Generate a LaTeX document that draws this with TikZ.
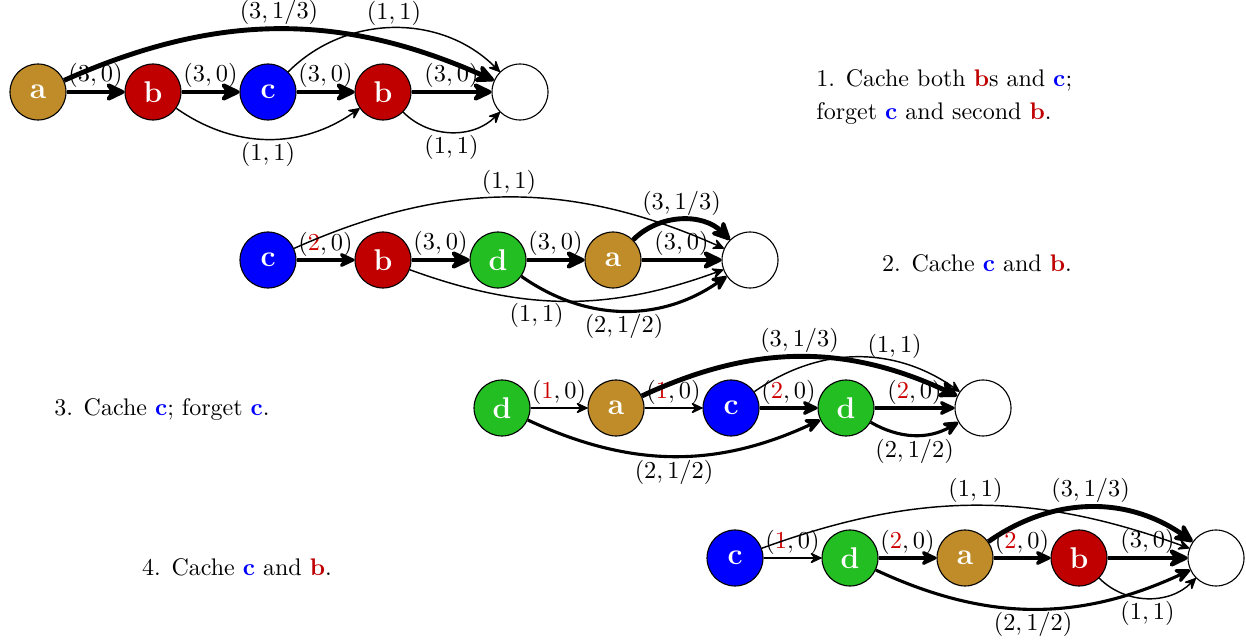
\documentclass[tikz,border=0pt]{standalone}
\usetikzlibrary{arrows.meta}
\definecolor{ngold}{RGB}{192,140,42}
\definecolor{nred}{RGB}{192,0,0}
\definecolor{nblue}{RGB}{0,0,255}
\definecolor{ngreen}{RGB}{34,190,34}
\definecolor{lred}{RGB}{205,0,0}
\newcommand{\capb}{\textcolor{nred}{\textbf{b}}}
\newcommand{\capc}{\textcolor{nblue}{\textbf{c}}}
\newcommand{\redn}[1]{\textcolor{lred}{#1}}
\begin{document}
\begin{tikzpicture}[x=0.45pt,y=0.45pt,
  vtx/.style={circle,draw=black,line width=0.5pt,minimum size=25.2pt,inner sep=0pt,text=white,font=\fontsize{13.5}{15}\selectfont\bfseries},
  vga/.style={vtx,fill=ngold},
  vrb/.style={vtx,fill=nred},
  vbc/.style={vtx,fill=nblue},
  vgd/.style={vtx,fill=ngreen},
  vend/.style={vtx,fill=white},
  wone/.style={line width=0.65pt,-{Stealth[length=6pt,width=5.6pt,inset=2.2pt,round]}},
  wtwo/.style={line width=1.4pt,-{Stealth[length=9pt,width=8.4pt,inset=3.2pt,round]}},
  wthree/.style={line width=2.2pt,-{Stealth[length=11pt,width=10.5pt,inset=3.8pt,round]}},
  lab/.style={font=\fontsize{10.5}{12}\selectfont,inner sep=1pt},
  captxt/.style={font=\fontsize{10.8}{13}\selectfont,inner sep=0pt}
]
\useasboundingbox (0,0) rectangle (1246,-640);

% ---------- Row 1 ----------
\node[vga]  (r1a)  at (38,-92)  {a};
\node[vrb]  (r1b)  at (153,-92) {b};
\node[vbc]  (r1c)  at (268,-92) {c};
\node[vrb]  (r1b2) at (383,-92) {b};
\node[vend] (r1e)  at (520,-92) {};
\draw[wthree] (r1a) -- node[lab,above]{$(3,0)$} (r1b);
\draw[wthree] (r1b) -- node[lab,above]{$(3,0)$} (r1c);
\draw[wthree] (r1c) -- node[lab,above]{$(3,0)$} (r1b2);
\draw[wthree] (r1b2) -- node[lab,above]{$(3,0)$} (r1e);
\draw[wthree] (r1a) to[bend left=24] node[lab,above]{$(3,1/3)$} (r1e);
\draw[wone] (r1c) to[bend left=45] node[lab,above]{$(1,1)$} (r1e);
\draw[wone] (r1b) to[bend right=35] node[lab,below]{$(1,1)$} (r1b2);
\draw[wone] (r1b2) to[bend right=45] node[lab,below]{$(1,1)$} (r1e);
\node[captxt,anchor=west,align=left] (t1) at (816,-97)
  {1. Cache both \capb s and \capc;\\[2pt] forget \capc\ and second \capb.};

% ---------- Row 2 ----------
\node[vbc]  (r2c)  at (268,-260) {c};
\node[vrb]  (r2b)  at (383,-260) {b};
\node[vgd]  (r2d)  at (498,-260) {d};
\node[vga]  (r2a)  at (613,-260) {a};
\node[vend] (r2e)  at (750,-260) {};
\draw[wtwo] (r2c) -- node[lab,above]{$(\redn{2},0)$} (r2b);
\draw[wthree] (r2b) -- node[lab,above]{$(3,0)$} (r2d);
\draw[wthree] (r2d) -- node[lab,above]{$(3,0)$} (r2a);
\draw[wthree] (r2a) -- node[lab,above]{$(3,0)$} (r2e);
\draw[wone] (r2c) to[bend left=24] node[lab,above]{$(1,1)$} (r2e);
\draw[wthree] (r2a) to[bend left=45] node[lab,above]{$(3,1/3)$} (r2e);
\draw[wone] (r2b) to[bend right=20] node[lab,below,pos=0.4]{$(1,1)$} (r2e);
\draw[wtwo] (r2d) to[bend right=35] node[lab,below]{$(2,1/2)$} (r2e);
\node[captxt] (t2) at (977,-263) {2. Cache \capc\ and \capb.};

% ---------- Row 3 ----------
\node[vgd]  (r3d)  at (502,-408) {d};
\node[vga]  (r3a)  at (616,-408) {a};
\node[vbc]  (r3c)  at (731,-408) {c};
\node[vgd]  (r3d2) at (846,-408) {d};
\node[vend] (r3e)  at (983,-408) {};
\draw[wone] (r3d) -- node[lab,above]{$(\redn{1},0)$} (r3a);
\draw[wone] (r3a) -- node[lab,above]{$(\redn{1},0)$} (r3c);
\draw[wtwo] (r3c) -- node[lab,above]{$(\redn{2},0)$} (r3d2);
\draw[wtwo] (r3d2) -- node[lab,above]{$(\redn{2},0)$} (r3e);
\draw[wthree] (r3a) to[bend left=25] node[lab,above]{$(3,1/3)$} (r3e);
\draw[wone] (r3c) to[bend left=35] node[lab,above,pos=0.68]{$(1,1)$} (r3e);
\draw[wtwo] (r3d) to[bend right=25] node[lab,below]{$(2,1/2)$} (r3d2);
\draw[wtwo] (r3d2) to[bend right=30] node[lab,below]{$(2,1/2)$} (r3e);
\node[captxt] (t3) at (162,-410) {3. Cache \capc; forget \capc.};

% ---------- Row 4 ----------
\node[vbc]  (r4c)  at (735,-558)  {c};
\node[vgd]  (r4d)  at (850,-558)  {d};
\node[vga]  (r4a)  at (965,-558)  {a};
\node[vrb]  (r4b)  at (1079,-558) {b};
\node[vend] (r4e)  at (1216,-558) {};
\draw[wone] (r4c) -- node[lab,above]{$(\redn{1},0)$} (r4d);
\draw[wtwo] (r4d) -- node[lab,above]{$(\redn{2},0)$} (r4a);
\draw[wtwo] (r4a) -- node[lab,above]{$(\redn{2},0)$} (r4b);
\draw[wthree] (r4b) -- node[lab,above]{$(3,0)$} (r4e);
\draw[wone] (r4c) to[bend left=20] node[lab,above]{$(1,1)$} (r4e);
\draw[wthree] (r4a) to[bend left=35] node[lab,above]{$(3,1/3)$} (r4e);
\draw[wtwo] (r4d) to[bend right=25] node[lab,below]{$(2,1/2)$} (r4e);
\draw[wone] (r4b) to[bend right=45] node[lab,below]{$(1,1)$} (r4e);
\node[captxt] (t4) at (237,-567) {4. Cache \capc\ and \capb.};
\end{tikzpicture}
\end{document}
